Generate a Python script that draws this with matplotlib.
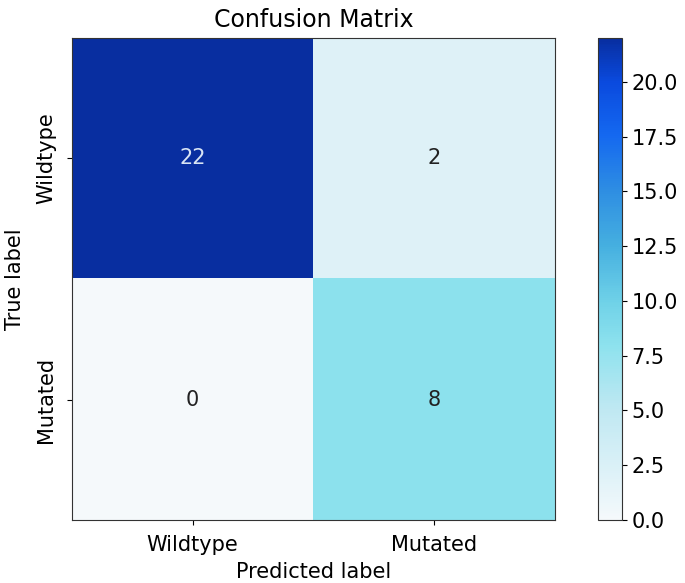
import numpy as np
import matplotlib
matplotlib.use("Agg")
import matplotlib.pyplot as plt
from matplotlib.colors import LinearSegmentedColormap

classes = ["Wildtype", "Mutated"]
cm = np.array([[22, 2],
               [0, 8]])

# colour-shifted "Blues" as it appears in the picture
cmap = LinearSegmentedColormap.from_list("shifted_blues", [
    (0.00, "#f5f9fb"),
    (0.09, "#dff2f8"),
    (0.23, "#bfe8f2"),
    (0.36, "#8ee2ee"),
    (0.45, "#70d2e8"),
    (0.57, "#45afe0"),
    (0.68, "#2f8fe2"),
    (0.80, "#1468f0"),
    (0.91, "#0a4ade"),
    (1.00, "#082ea0"),
])

fig = plt.figure(figsize=(6.85, 5.83), dpi=100)
ax = fig.add_axes([0.105, 0.108, 0.705, 0.827])
cax = fig.add_axes([0.873, 0.108, 0.035, 0.827])

im = ax.imshow(cm, interpolation="nearest", cmap=cmap, vmin=0, vmax=cm.max(), aspect="auto")
ax.set_title("Confusion Matrix", fontsize=17, pad=8)
cbar = fig.colorbar(im, cax=cax)
cbar.set_ticks(np.arange(0, 22.5, 2.5))
cbar.ax.tick_params(labelsize=15)

ticks = np.arange(len(classes))
ax.set_xticks(ticks)
ax.set_xticklabels(classes, fontsize=15)
ax.set_yticks(ticks)
ax.set_yticklabels(classes, fontsize=15, rotation=90, va="center")
ax.tick_params(axis="x", pad=7)
ax.tick_params(axis="y", pad=8)
ax.set_ylabel("True label", fontsize=15, labelpad=8)
ax.set_xlabel("Predicted label", fontsize=15, labelpad=5)

for sp in list(ax.spines.values()) + list(cax.spines.values()):
    sp.set_edgecolor("#333333")

thresh = cm.max() / 2.0
for i in range(cm.shape[0]):
    for j in range(cm.shape[1]):
        ax.text(j, i, format(cm[i, j], "d"), ha="center", va="center", fontsize=15,
                color="#d8e4f4" if cm[i, j] > thresh else "#222222")

plt.savefig("out.png")
